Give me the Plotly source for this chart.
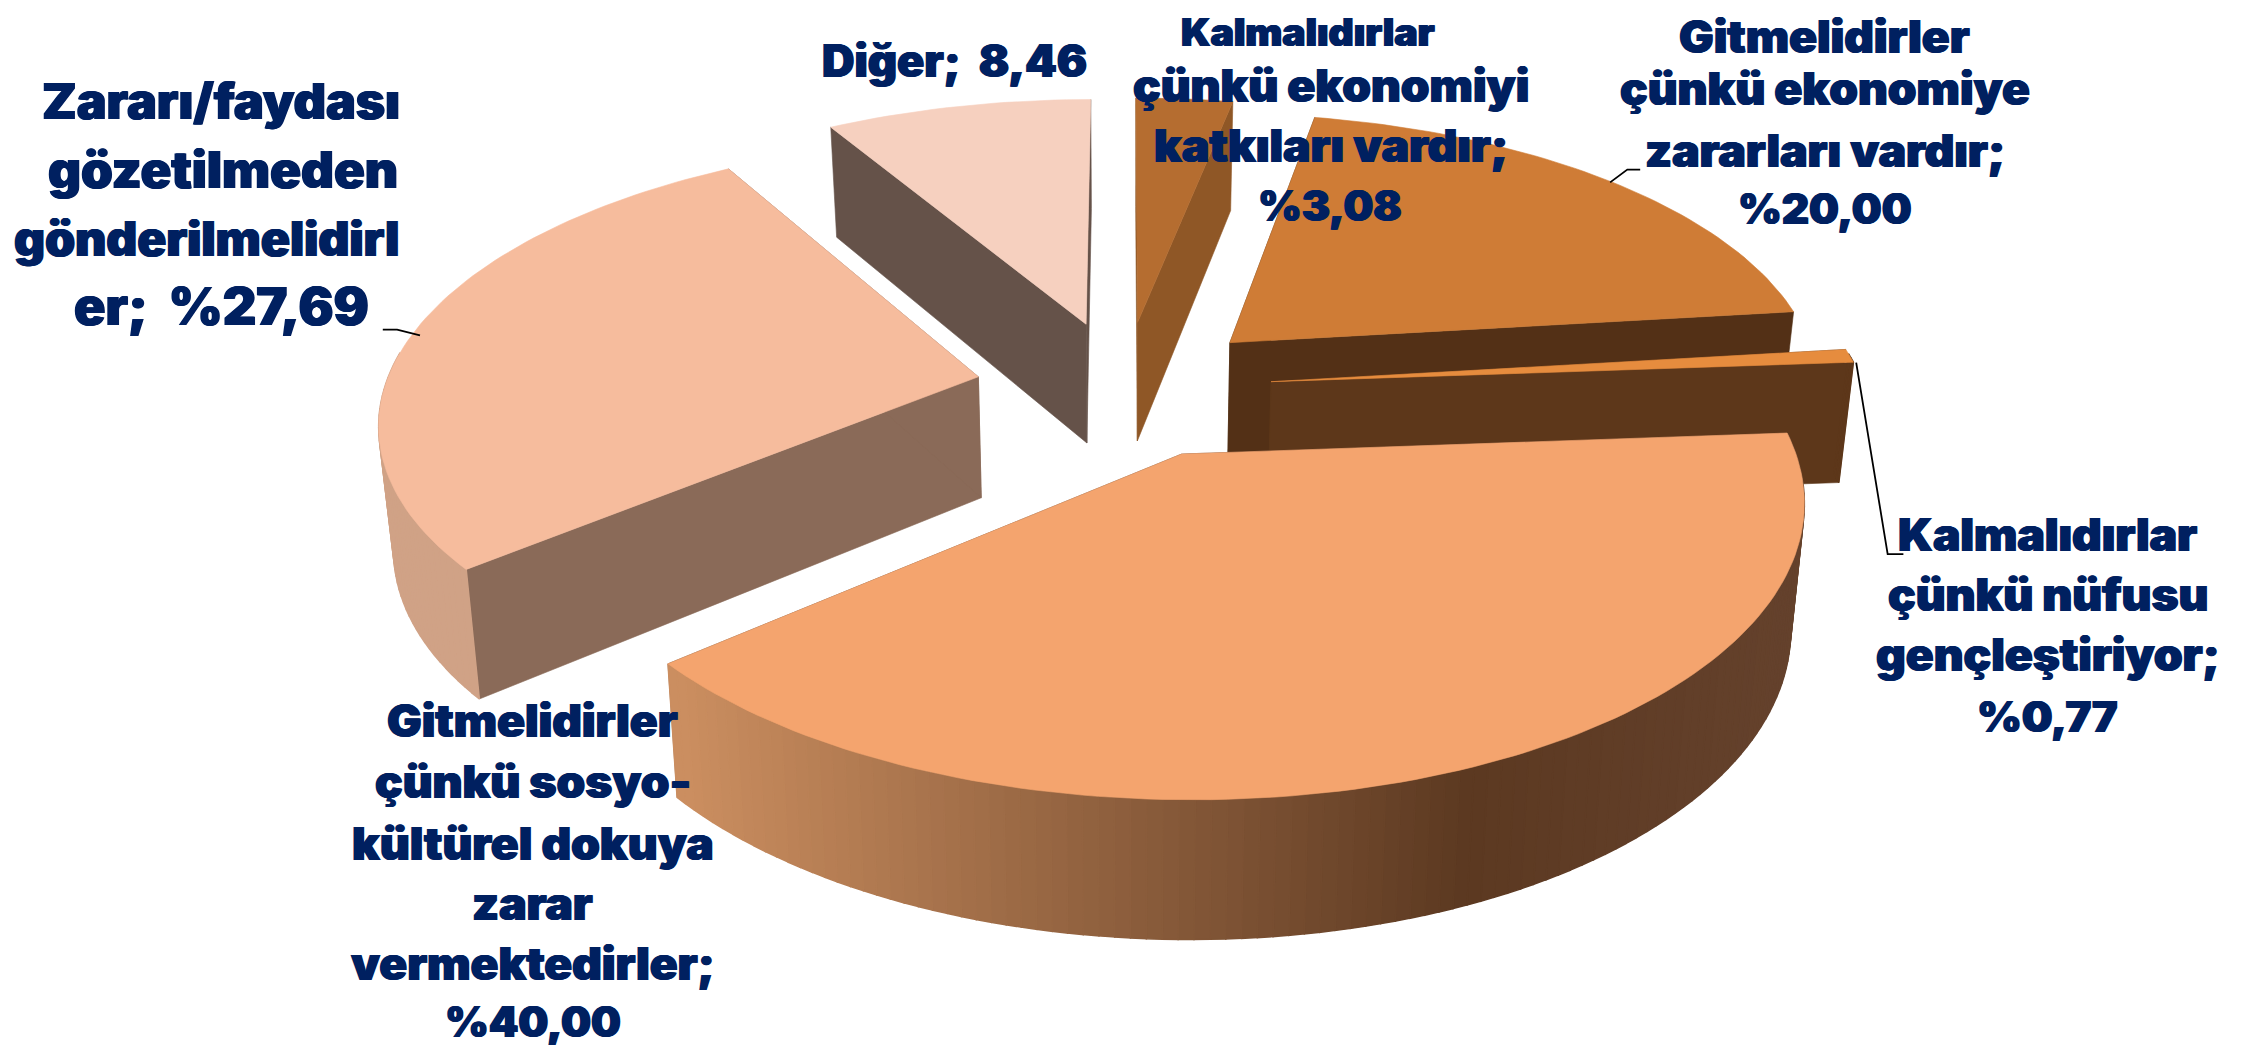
import numpy as np
import plotly.graph_objects as go

# --- data ---
categories = [
    "Kalmalıdırlar çünkü ekonomiyi katkıları vardır",
    "Gitmelidirler çünkü ekonomiye zararları vardır",
    "Kalmalıdırlar çünkü nüfusu gençleştiriyor",
    "Gitmelidirler çünkü sosyo-kültürel dokuya zarar vermektedirler",
    "Zararı/faydası gözetilmeden gönderilmelidirler",
    "Diğer",
]
values = [3.08, 20.00, 0.77, 40.00, 27.69, 8.46]
label_lines = [
    ["Kalmalıdırlar", "çünkü ekonomiyi", "katkıları vardır;", "%3,08"],
    ["Gitmelidirler", "çünkü ekonomiye", "zararları vardır;", "%20,00"],
    ["Kalmalıdırlar", "çünkü nüfusu", "gençleştiriyor;", "%0,77"],
    ["Gitmelidirler", "çünkü sosyo-", "kültürel dokuya", "zarar", "vermektedirler;", "%40,00"],
    ["Zararı/faydası", "gözetilmeden", "gönderilmelidirl", "er;  %27,69"],
    ["Diğer;  8,46"],
]

# --- styles / layout (in 1568x731 picture units) ---
top_colors = ["#B56D30", "#CF7C36", "#E68C3E", "#F4A46E", "#F6BC9D", "#F6D0BF"]
radial_colors = ["#8F5726", "#533016", "#5D371A", "#6A4630", "#8A6A58", "#655249"]
arc_colors = ["#8F5726", "#533016", "#5D371A", None, "#D0A286", "#655249"]
draw_order = [5, 0, 1, 2, 4, 3]
CX, CY, AX, BY, P, H, SHRINK, EXPLODE = 780, 266, 415, 192, 0.145, 85, 0.98, 0.25
GRAD_X = [470, 1020, 1265]
GRAD_RGB = [(203, 142, 96), (92, 57, 33), (101, 66, 45)]
label_pos = [
    ([909, 925, 925, 924], [16.5, 54, 96, 138]),
    (1270, [19.5, 56, 99, 140]),
    (1426, [368, 410, 452, 495]),
    (367, [498, 541, 584, 626, 668, 709]),
    ([149, 150, 139, 149], [65, 113, 161, 209]),
    (662, [37]),
]
label_sizes = [
    [39, 46, 46, 42],
    [46, 46, 46, 42],
    [46, 46, 46, 43],
    [46, 46, 46, 46, 46, 42],
    [50, 51, 48, 52],
    [45],
]
leaders = [
    ([262, 272, 288], [225, 225, 229]),
    ([1120, 1132, 1141], [122, 113, 113]),
    ([1292, 1314, 1325], [248, 382, 382]),
]
TEXT = "#002060"
STROKE = "0.8px 0 0 #002060, -0.8px 0 0 #002060"


def project(u, v, z=0.0):
    w = 1 + P * v
    x = AX * u / w
    y = -BY * v / w
    if z:
        return CX + x * SHRINK, CY + y * SHRINK + H / w
    return CX + x, CY + y


def poly(fig, xs, ys, color, lw=0.6):
    xs, ys = list(xs), list(ys)
    fig.add_trace(go.Scatter(
        x=xs + xs[:1], y=ys + ys[:1], mode="lines", fill="toself", fillcolor=color,
        line=dict(color=color, width=lw), hoverinfo="skip", showlegend=False))


def grad_color(x):
    c = [np.interp(x, GRAD_X, [g[i] for g in GRAD_RGB]) for i in range(3)]
    return "rgb(%d,%d,%d)" % tuple(int(round(a)) for a in c)


fig = go.Figure()
edges = np.cumsum([0] + values) / sum(values) * 2 * np.pi

for i in draw_order:
    a0, a1 = edges[i], edges[i + 1]
    mid = (a0 + a1) / 2
    ou, ov = EXPLODE * np.sin(mid), EXPLODE * np.cos(mid)
    th = np.linspace(a0, a1, max(4, int((a1 - a0) * 45)))
    pts = [(ou + np.sin(t), ov + np.cos(t)) for t in th]
    # radial side faces
    for (eu, ev), col in ((pts[0], radial_colors[i]), (pts[-1], radial_colors[i])):
        p = [project(ou, ov), project(eu, ev), project(eu, ev, 1), project(ou, ov, 1)]
        poly(fig, [q[0] for q in p], [q[1] for q in p], col)
    # outer curved wall, only the part that faces the viewer
    for k in range(len(pts) - 1):
        tm = (th[k] + th[k + 1]) / 2
        if np.cos(tm) > 0.1:
            continue
        p = [project(*pts[k]), project(*pts[k + 1]),
             project(*pts[k + 1], 1), project(*pts[k], 1)]
        col = arc_colors[i] or grad_color((p[0][0] + p[1][0]) / 2)
        poly(fig, [q[0] for q in p], [q[1] for q in p], col, lw=1.5)
    # top face
    p = [project(ou, ov)] + [project(*q) for q in pts]
    poly(fig, [q[0] for q in p], [q[1] for q in p], top_colors[i])

for lx, ly in leaders:
    fig.add_trace(go.Scatter(x=lx, y=ly, mode="lines", line=dict(color="#000000", width=1.8),
                             hoverinfo="skip", showlegend=False))

for lines, (xpos, ypos), sizes in zip(label_lines, label_pos, label_sizes):
    for j, line in enumerate(lines):
        x = xpos[j] if isinstance(xpos, list) else xpos
        fig.add_annotation(
            x=x, y=ypos[j], text=line, showarrow=False,
            xanchor="center", yanchor="middle",
            font=dict(family="Inter", size=sizes[j], color=TEXT, weight=900, shadow=STROKE))

fig.update_layout(
    width=2243, height=1045, margin=dict(l=0, r=0, t=0, b=0),
    paper_bgcolor="white", plot_bgcolor="white", showlegend=False,
    xaxis=dict(range=[0, 1568], visible=False, fixedrange=True),
    yaxis=dict(range=[731, 0], visible=False, fixedrange=True),
)
fig.write_html("out.html", config={"displayModeBar": False})
